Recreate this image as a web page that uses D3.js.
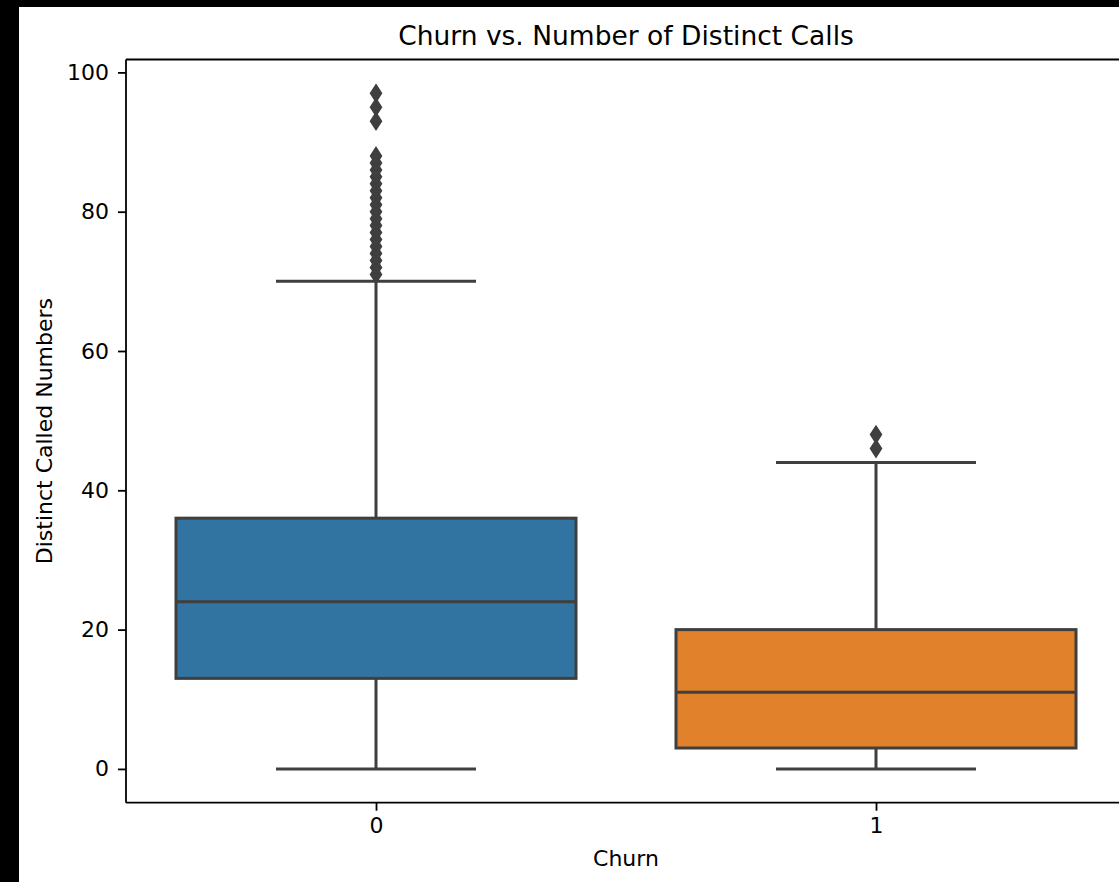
<!DOCTYPE html>
<html>
<head>
<meta charset="utf-8">
<script src="https://cdn.jsdelivr.net/npm/d3@7"></script>
<style>
  html, body { margin: 0; padding: 0; background: #000; }
  svg { display: block; }
  text { font-family: "DejaVu Sans", sans-serif; fill: #000; }
</style>
</head>
<body>
<svg id="chart" width="1119" height="882"></svg>
<script>
// Box-plot summary of distinct called numbers, split by churn flag
const categories = ["0", "1"];
const q1Values = [13, 3];
const medianValues = [24, 11];
const q3Values = [36, 20];
const whiskerLow = [0, 0];
const whiskerHigh = [70, 44];
const outliers = [
  [71, 72, 73, 74, 75, 76, 77, 78, 79, 80, 81, 82, 83, 84, 85, 86, 87, 88, 93, 95, 97],
  [46, 48]
];
const boxColors = ["#3274a1", "#e1812c"];
const yTicks = [0, 20, 40, 60, 80, 100];

const svg = d3.select("#chart");
const W = 1119, H = 882;

// white canvas area
svg.append("rect").attr("x", 19).attr("y", 7).attr("width", W - 19).attr("height", H - 7).attr("fill", "#fff");

const axLeft = 126, axRight = 1126, axTop = 59.5, axBottom = 802.7;

const x = d3.scaleLinear().domain([-0.5, categories.length - 0.5]).range([axLeft, axRight]);
const y = d3.scaleLinear().domain([-4.85, 101.85]).range([axBottom, axTop]);

const lineColor = "#3f3f3f";
const lw = 3;
const boxW = 0.8;

const g = svg.append("g");

categories.forEach((c, i) => {
  const cx = x(i);
  const x0 = x(i - boxW / 2), x1 = x(i + boxW / 2);
  const cap0 = x(i - boxW / 4), cap1 = x(i + boxW / 4);
  const grp = g.append("g");

  // whiskers
  grp.append("line").attr("x1", cx).attr("x2", cx).attr("y1", y(q3Values[i])).attr("y2", y(whiskerHigh[i]))
    .attr("stroke", lineColor).attr("stroke-width", lw);
  grp.append("line").attr("x1", cx).attr("x2", cx).attr("y1", y(q1Values[i])).attr("y2", y(whiskerLow[i]))
    .attr("stroke", lineColor).attr("stroke-width", lw);
  // caps
  [whiskerHigh[i], whiskerLow[i]].forEach(v => {
    grp.append("line").attr("x1", cap0).attr("x2", cap1).attr("y1", y(v)).attr("y2", y(v))
      .attr("stroke", lineColor).attr("stroke-width", lw);
  });
  // box
  grp.append("rect").attr("x", x0).attr("y", y(q3Values[i]))
    .attr("width", x1 - x0).attr("height", y(q1Values[i]) - y(q3Values[i]))
    .attr("fill", boxColors[i]).attr("stroke", lineColor).attr("stroke-width", lw);
  // median
  grp.append("line").attr("x1", x0).attr("x2", x1).attr("y1", y(medianValues[i])).attr("y2", y(medianValues[i]))
    .attr("stroke", lineColor).attr("stroke-width", lw);
  // outliers as thin diamonds
  grp.selectAll("path.flier").data(outliers[i]).join("path")
    .attr("class", "flier")
    .attr("d", v => {
      const py = y(v), hw = 5.5, hh = 8.5;
      return `M${cx},${py - hh}L${cx + hw},${py}L${cx},${py + hh}L${cx - hw},${py}Z`;
    })
    .attr("fill", lineColor).attr("stroke", lineColor).attr("stroke-width", 1.5).attr("stroke-linejoin", "miter");
});

// spines
const spine = svg.append("g").attr("stroke", "#000").attr("stroke-width", 1.8).attr("fill", "none");
spine.append("line").attr("x1", axLeft).attr("x2", axLeft).attr("y1", axTop).attr("y2", axBottom);
spine.append("line").attr("x1", axLeft).attr("x2", axRight).attr("y1", axTop).attr("y2", axTop);
spine.append("line").attr("x1", axLeft).attr("x2", axRight).attr("y1", axBottom).attr("y2", axBottom);
spine.append("line").attr("x1", axRight).attr("x2", axRight).attr("y1", axTop).attr("y2", axBottom);

// y axis
const yAxis = d3.axisLeft(y).tickValues(yTicks).tickSize(8).tickPadding(9).tickFormat(d3.format("d"));
const ya = svg.append("g").attr("transform", `translate(${axLeft},0)`).call(yAxis);
ya.select(".domain").remove();
ya.selectAll(".tick line").attr("stroke", "#000").attr("stroke-width", 1.8);
ya.selectAll(".tick text").attr("font-size", 22).attr("font-family", "DejaVu Sans").attr("fill", "#000");

// x axis
const xAxis = d3.axisBottom(x).tickValues(categories.map((c, i) => i)).tickSize(8).tickPadding(7)
  .tickFormat(i => categories[i]);
const xa = svg.append("g").attr("transform", `translate(0,${axBottom})`).call(xAxis);
xa.select(".domain").remove();
xa.selectAll(".tick line").attr("stroke", "#000").attr("stroke-width", 1.8);
xa.selectAll(".tick text").attr("font-size", 22).attr("font-family", "DejaVu Sans").attr("fill", "#000");

// title and axis labels
svg.append("text").attr("x", (axLeft + axRight) / 2).attr("y", 45).attr("text-anchor", "middle")
  .attr("font-size", 26.5).text("Churn vs. Number of Distinct Calls");
svg.append("text").attr("x", (axLeft + axRight) / 2).attr("y", 866).attr("text-anchor", "middle")
  .attr("font-size", 22).text("Churn");
svg.append("text").attr("transform", `translate(52,${(axTop + axBottom) / 2}) rotate(-90)`).attr("text-anchor", "middle")
  .attr("font-size", 22).text("Distinct Called Numbers");
</script>
</body>
</html>
